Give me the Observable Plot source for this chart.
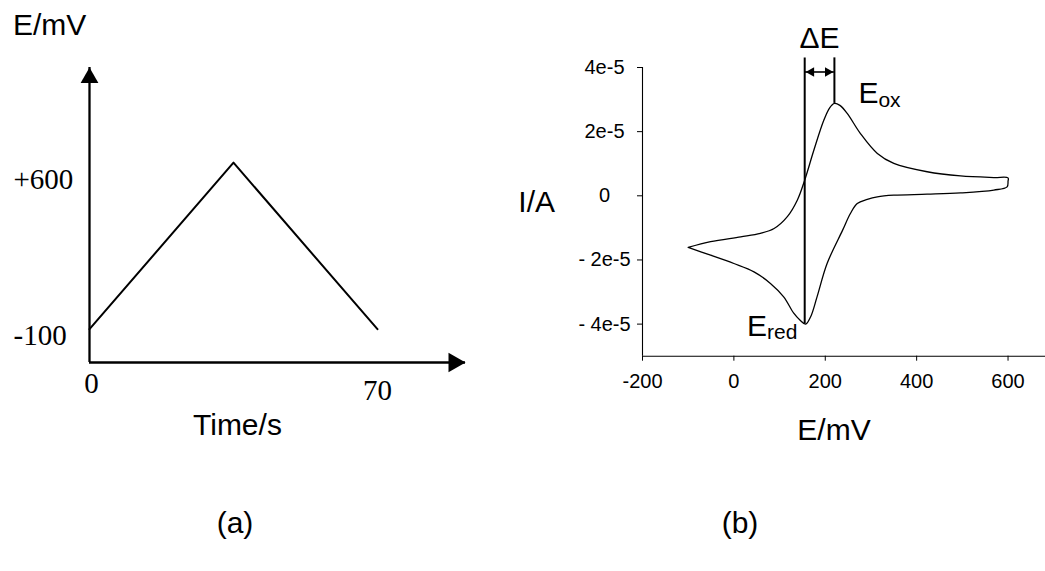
<!DOCTYPE html>
<html>
<head>
<meta charset="utf-8">
<script src="https://cdn.jsdelivr.net/npm/d3@7"></script>
<script src="https://cdn.jsdelivr.net/npm/@observablehq/plot@0.6"></script>
<style>
  html, body { margin: 0; padding: 0; background: #fff; overflow: hidden; }
  #wrap { position: relative; width: 1045px; height: 571px; background: #fff; }
  #wrap svg { position: absolute; top: 0; }
  .lbl { position: absolute; font-family: "Liberation Sans", Arial, sans-serif; font-size: 30px;
         line-height: 1; white-space: nowrap; color: #000; }
  .ctr { transform: translateX(-50%); }
</style>
</head>
<body>
<div id="wrap"></div>
<script>
// ---------- Panel (a): potential waveform ----------
const timeS = [0, 35, 70];
const potentialMV = [-100, 600, -100];
const waveTimeAxis = [0, 91.4];        // time axis extent (arrow tip)
const wavePotentialAxis = [-240, 1000]; // potential axis extent (arrow tip)
const waveYTickValues = [600, -100];
const waveYTickLabels = ["+600", "-100"];
const waveXTickValues = [0, 70];
const waveXTickLabels = ["0", "70"];

// ---------- Panel (b): cyclic voltammogram ----------
const cvForwardE = [-100, -51, 15, 58, 88, 117, 139, 155, 175, 197, 210, 220, 232, 248, 277, 314, 350, 423, 496, 569, 600];
const cvForwardI = [-1.61e-5, -1.43e-5, -1.28e-5, -1.17e-5, -1.02e-5, -0.65e-5, -0.13e-5, 0.49e-5, 1.42e-5, 2.36e-5, 2.75e-5, 2.88e-5, 2.82e-5, 2.57e-5, 1.94e-5, 1.32e-5, 1.01e-5, 0.75e-5, 0.62e-5, 0.57e-5, 0.56e-5];
const cvReverseE = [600, 598, 569, 496, 423, 350, 314, 292, 270, 255, 238, 204, 182, 168, 157, 145, 131, 109, 80, 44, 0, -51, -100];
const cvReverseI = [0.45e-5, 0.28e-5, 0.18e-5, 0.09e-5, 0.05e-5, 0.02e-5, -0.03e-5, -0.11e-5, -0.24e-5, -0.55e-5, -1.07e-5, -2.11e-5, -3.15e-5, -3.77e-5, -4.0e-5, -3.88e-5, -3.66e-5, -3.15e-5, -2.73e-5, -2.37e-5, -2.11e-5, -1.85e-5, -1.61e-5];
const cvXDomain = [-200, 682];
const cvYDomain = [-5e-5, 4e-5];
const cvXTicks = [-200, 0, 200, 400, 600];
const cvYTicks = [-4e-5, -2e-5, 0, 2e-5, 4e-5];
const cvYTickLabels = ["- 4e-5", "- 2e-5", "0", "2e-5", "4e-5"];
const peakE = {red: 155, ox: 220};
const peakI = {red: -4.0e-5, ox: 2.88e-5};
const markerTopI = 4.3e-5;   // top of the peak marker lines
const deltaArrowI = 3.86e-5; // level of the ΔE double arrow

const wrap = document.getElementById("wrap");

// ----- Panel (a) -----
const waveRows = timeS.map((t, i) => ({t, E: potentialMV[i]}));
const waveYTicks = waveYTickValues.map((v, i) => ({E: v, label: waveYTickLabels[i]}));
const waveXTicks = waveXTickValues.map((v, i) => ({t: v, label: waveXTickLabels[i]}));
const serif = "Liberation Serif, Times New Roman, serif";

const plotA = Plot.plot({
  width: 520, height: 571,
  marginLeft: 89, marginRight: 55, marginTop: 67, marginBottom: 209,
  x: {domain: waveTimeAxis, axis: null},
  y: {domain: wavePotentialAxis, axis: null},
  style: {background: "white", color: "black", fontFamily: "Liberation Sans, Arial, sans-serif"},
  marks: [
    Plot.ruleY([wavePotentialAxis[0]], {x1: waveTimeAxis[0], x2: waveTimeAxis[1], stroke: "black", strokeWidth: 2.3}),
    Plot.ruleX([waveTimeAxis[0]], {y1: wavePotentialAxis[0], y2: wavePotentialAxis[1], stroke: "black", strokeWidth: 2.3}),
    Plot.dot([{t: waveTimeAxis[1], E: wavePotentialAxis[0]}], {x: "t", y: "E", symbol: "triangle", r: 7.3, fill: "black", stroke: "none", rotate: 90, dx: -11.3}),
    Plot.dot([{t: waveTimeAxis[0], E: wavePotentialAxis[1]}], {x: "t", y: "E", symbol: "triangle", r: 6.6, fill: "black", stroke: "none", rotate: 0, dy: 10.3}),
    Plot.line(waveRows, {x: "t", y: "E", stroke: "black", strokeWidth: 2}),
    Plot.text(waveYTicks.filter(d => d.E === 600), {x: () => 0, y: "E", text: "label", textAnchor: "start", lineAnchor: "bottom", dx: -76, dy: 26, fontFamily: serif, fontSize: 29}),
    Plot.text(waveYTicks.filter(d => d.E === -100), {x: () => 0, y: "E", text: "label", textAnchor: "start", lineAnchor: "bottom", dx: -76, dy: 16, fontFamily: serif, fontSize: 29}),
    Plot.text(waveXTicks.filter(d => d.t === 0), {x: "t", y: () => wavePotentialAxis[0], text: "label", textAnchor: "middle", lineAnchor: "bottom", dx: 2, dy: 30, fontFamily: serif, fontSize: 29}),
    Plot.text(waveXTicks.filter(d => d.t === 70), {x: "t", y: () => wavePotentialAxis[0], text: "label", textAnchor: "middle", lineAnchor: "bottom", dy: 37, fontFamily: serif, fontSize: 29})
  ]
});
plotA.style.left = "0px";
wrap.appendChild(plotA);

// ----- Panel (b) -----
const cvRows = [
  ...cvForwardE.map((e, i) => ({E: e, I: cvForwardI[i]})),
  ...cvReverseE.map((e, i) => ({E: e, I: cvReverseI[i]}))
];
const sans = "Liberation Sans, Arial, sans-serif";
const plotB = Plot.plot({
  width: 565, height: 571,
  marginLeft: 162, marginRight: 0, marginTop: 67, marginBottom: 215.3,
  x: {domain: cvXDomain},
  y: {domain: cvYDomain},
  style: {background: "transparent", color: "black", fontFamily: sans, fontSize: "20px", overflow: "visible"},
  marks: [
    Plot.ruleX([cvXDomain[0]], {y1: cvYDomain[0], y2: cvYTicks[cvYTicks.length - 1], stroke: "black", strokeWidth: 1.1}),
    Plot.ruleY([cvYDomain[0]], {x1: cvXDomain[0], x2: cvXDomain[1], stroke: "black", strokeWidth: 1.1}),
    Plot.axisX({ticks: cvXTicks, tickSize: 5, tickPadding: 13, fontSize: 20, tickFormat: d => String(d), label: null}),
    Plot.axisY({ticks: cvYTicks, tickSize: 5, tickPadding: 33, textAnchor: "middle", fontSize: 20,
                tickFormat: d => cvYTickLabels[cvYTicks.indexOf(d)], label: null}),
    Plot.line(cvRows, {x: "E", y: "I", curve: "catmull-rom", stroke: "black", strokeWidth: 1.3}),
    Plot.ruleX([peakE.red], {y1: peakI.red, y2: markerTopI, stroke: "black", strokeWidth: 2}),
    Plot.ruleX([peakE.ox], {y1: peakI.ox, y2: markerTopI, stroke: "black", strokeWidth: 2}),
    Plot.ruleY([deltaArrowI], {x1: peakE.red, x2: peakE.ox, stroke: "black", strokeWidth: 1.6}),
    Plot.dot([{E: peakE.red, I: deltaArrowI}], {x: "E", y: "I", symbol: "triangle", r: 3.6, fill: "black", stroke: "none", rotate: -90, dx: 6.6}),
    Plot.dot([{E: peakE.ox, I: deltaArrowI}], {x: "E", y: "I", symbol: "triangle", r: 3.6, fill: "black", stroke: "none", rotate: 90, dx: -6.6}),
    Plot.text([{E: (peakE.red + peakE.ox) / 2, I: deltaArrowI}], {x: "E", y: "I", text: () => "ΔE", textAnchor: "middle", lineAnchor: "bottom", dy: -24.4, fontSize: 30}),
    Plot.text([{E: peakE.ox, I: peakI.ox}], {x: "E", y: "I", text: () => "E", textAnchor: "start", lineAnchor: "bottom", dx: 24, dy: 0, fontSize: 30}),
    Plot.text([{E: peakE.ox, I: peakI.ox}], {x: "E", y: "I", text: () => "ox", textAnchor: "start", lineAnchor: "bottom", dx: 44, dy: 3.7, fontSize: 21}),
    Plot.text([{E: peakE.red, I: peakI.red}], {x: "E", y: "I", text: () => "E", textAnchor: "start", lineAnchor: "bottom", dx: -57.6, dy: 11.9, fontSize: 30}),
    Plot.text([{E: peakE.red, I: peakI.red}], {x: "E", y: "I", text: () => "red", textAnchor: "start", lineAnchor: "bottom", dx: -37.6, dy: 14.5, fontSize: 21})
  ]
});
plotB.style.left = "480px";
wrap.appendChild(plotB);

// ----- Axis titles and panel captions -----
function label(text, left, top, centered) {
  const d = document.createElement("div");
  d.className = "lbl" + (centered ? " ctr" : "");
  d.textContent = text;
  d.style.left = left + "px";
  d.style.top = top + "px";
  wrap.appendChild(d);
}
label("E/mV", 13, 9.6, false);
label("Time/s", 193, 409.6, false);
label("(a)", 235, 507.6, true);
label("I/A", 518.3, 186.6, false);
label("E/mV", 834, 415.3, true);
label("(b)", 740, 507.6, true);
</script>
</body>
</html>
